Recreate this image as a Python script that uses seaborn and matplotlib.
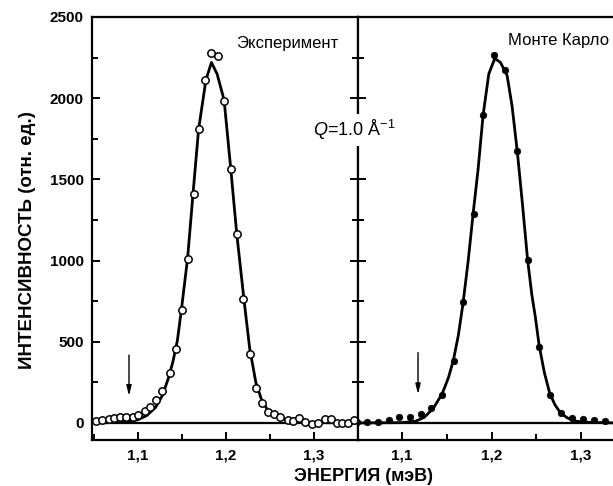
import numpy as np
import pandas as pd
import matplotlib
matplotlib.use("Agg")
import matplotlib.pyplot as plt
from matplotlib.ticker import MultipleLocator, FuncFormatter
import seaborn as sns

# ---- data ----
exp_x = [1.052, 1.059, 1.067, 1.073, 1.080, 1.087, 1.094, 1.100, 1.108, 1.114,
         1.121, 1.128, 1.137, 1.143, 1.150, 1.157, 1.164, 1.170, 1.176, 1.183,
         1.191, 1.198, 1.206, 1.213, 1.220, 1.227, 1.234, 1.241, 1.248, 1.255,
         1.262, 1.270, 1.276, 1.283, 1.290, 1.298, 1.305, 1.312, 1.319, 1.326,
         1.332, 1.339, 1.346]
exp_y = [14, 18, 25, 31, 35, 39, 39, 51, 76, 100,
         141, 199, 310, 455, 695, 1011, 1409, 1809, 2110, 2277,
         2258, 1983, 1563, 1163, 761, 425, 215, 125, 70, 55,
         39, 18, 12, 29, 8, -8, 2, 23, 23, 2,
         -2, -2, 18]

exp_fit_x = [1.048, 1.08, 1.09, 1.10, 1.11, 1.12, 1.128, 1.135, 1.14, 1.145,
             1.1497, 1.1565, 1.1633, 1.169, 1.1773, 1.1836, 1.190, 1.198,
             1.2055, 1.2123, 1.2206, 1.227, 1.234, 1.241, 1.248, 1.255,
             1.265, 1.28, 1.30, 1.35]
exp_fit_y = [0, 3, 8, 20, 45, 95, 170, 280, 380, 510,
             706, 1013, 1450, 1807, 2111, 2220, 2150, 1988,
             1567, 1167, 757, 460, 250, 135, 75, 45,
             22, 8, 2, 0]

mc_x = [1.0497, 1.0616, 1.0735, 1.0855, 1.0973, 1.1093, 1.1212, 1.1324, 1.145,
        1.1576, 1.1683, 1.1802, 1.1906, 1.2026, 1.2152, 1.2286, 1.2409, 1.2531,
        1.2651, 1.2773, 1.2893, 1.3022, 1.3142, 1.3265]
mc_y = [8, 8, 8, 17, 39, 39, 53, 90, 172,
        382, 743, 1284, 1895, 2265, 2176, 1676, 1003, 470,
        174, 60, 29, 23, 18, 14]

mc_fit_x = [1.05, 1.10, 1.115, 1.125, 1.135, 1.145, 1.152, 1.1576, 1.163, 1.1683,
            1.174, 1.1795, 1.185, 1.1906, 1.197, 1.2037, 1.210, 1.2174, 1.223,
            1.229, 1.2345, 1.2402, 1.245, 1.249, 1.2531, 1.259, 1.2651, 1.271,
            1.2773, 1.285, 1.295, 1.31, 1.34]
mc_fit_y = [0, 2, 10, 35, 90, 180, 280, 390, 540, 740,
            1000, 1290, 1560, 1895, 2150, 2245, 2220, 2140, 1950,
            1660, 1350, 1010, 790, 650, 480, 310, 180, 110,
            60, 30, 10, 3, 0]

y_ticks = [0, 500, 1000, 1500, 2000, 2500]
x_ticks = [1.1, 1.2, 1.3]
arrow_exp_x = 1.090
arrow_mc_x = 1.118

sns.set_style("ticks", {"axes.edgecolor": "black", "text.color": "black",
                        "xtick.color": "black", "ytick.color": "black",
                        "axes.labelcolor": "black"})
plt.rcParams["font.family"] = ["Liberation Sans", "DejaVu Sans"]
plt.rcParams["mathtext.fontset"] = "custom"
plt.rcParams["mathtext.rm"] = "Liberation Sans"
plt.rcParams["mathtext.it"] = "Liberation Sans:italic"

fig = plt.figure(figsize=(6.13, 4.86), dpi=100)
bottom = 1 - 440 / 486
height = (440 - 17) / 486
axL = fig.add_axes([92 / 613, bottom, (358 - 92) / 613, height])
axR = fig.add_axes([358 / 613, bottom, (613 - 358) / 613, height])

df_exp = pd.DataFrame({"x": exp_x, "y": exp_y})
df_expfit = pd.DataFrame({"x": exp_fit_x, "y": exp_fit_y})
df_mc = pd.DataFrame({"x": mc_x, "y": mc_y})
df_mcfit = pd.DataFrame({"x": mc_fit_x, "y": mc_fit_y})

for ax in (axL, axR):
    ax.axhline(0, color="black", lw=1.6, zorder=1)

sns.lineplot(data=df_expfit, x="x", y="y", ax=axL, color="black", lw=2.0,
             sort=False, estimator=None, zorder=2)
sns.scatterplot(data=df_exp, x="x", y="y", ax=axL, marker="o", s=28,
                facecolor="white", edgecolor="black", linewidth=1.1, zorder=3)

sns.lineplot(data=df_mcfit, x="x", y="y", ax=axR, color="black", lw=2.0,
             sort=False, estimator=None, zorder=2)
sns.scatterplot(data=df_mc, x="x", y="y", ax=axR, marker="o", s=22,
                color="black", edgecolor="black", linewidth=0.5, zorder=3)

fmt = FuncFormatter(lambda v, p: f"{v:.1f}".replace(".", ","))
axL.set_xlim(1.048, 1.350)
axR.set_xlim(1.051, 1.3356)
for ax in (axL, axR):
    ax.set_ylim(-105, 2500)
    ax.set_xticks(x_ticks)
    ax.xaxis.set_major_formatter(fmt)
    ax.xaxis.set_minor_locator(MultipleLocator(0.05))
    ax.yaxis.set_minor_locator(MultipleLocator(250))
    ax.set_xlabel("")
    ax.set_ylabel("")
    for s in ax.spines.values():
        s.set_linewidth(1.6)
        s.set_color("black")
    ax.tick_params(which="both", direction="in", width=1.4, pad=6,
                   labelsize=11, colors="black")
    ax.tick_params(which="major", length=6)
    ax.tick_params(which="minor", length=4)
    for lab in ax.get_xticklabels():
        lab.set_fontweight("bold")

axL.set_yticks(y_ticks)
axL.tick_params(axis="y", which="both", left=True, right=True)
for lab in axL.get_yticklabels():
    lab.set_fontweight("bold")
axR.set_yticks(y_ticks)
axR.tick_params(axis="y", which="both", left=True, right=False, labelleft=False)
axR.spines["right"].set_visible(False)

axL.annotate("", xy=(arrow_exp_x, 150), xytext=(arrow_exp_x, 435),
             arrowprops=dict(arrowstyle="-|>,head_length=0.6,head_width=0.15",
                             color="black", lw=1.0))
axR.annotate("", xy=(arrow_mc_x, 160), xytext=(arrow_mc_x, 450),
             arrowprops=dict(arrowstyle="-|>,head_length=0.6,head_width=0.15",
                             color="black", lw=1.0))

axL.text(1.328, 2335, "Эксперимент", ha="right", va="center", fontsize=12)
axR.text(1.218, 2355, "Монте Карло", ha="left", va="center", fontsize=12,
         clip_on=False)

fig.text(354 / 613, 1 - 130 / 486, r"$Q$=1.0 Å$^{-1}$", ha="center",
         va="center", fontsize=13,
         bbox=dict(facecolor="white", edgecolor="none", pad=3))

fig.text(363 / 613, 1 - 476 / 486, "ЭНЕРГИЯ (мэВ)", ha="center", va="center",
         fontsize=13, fontweight="bold")
fig.text(28 / 613, 1 - 240 / 486, "ИНТЕНСИВНОСТЬ (отн. ед.)", ha="center",
         va="center", rotation=90, fontsize=13.5, fontweight="bold")

fig.savefig("out.png", dpi=100)
